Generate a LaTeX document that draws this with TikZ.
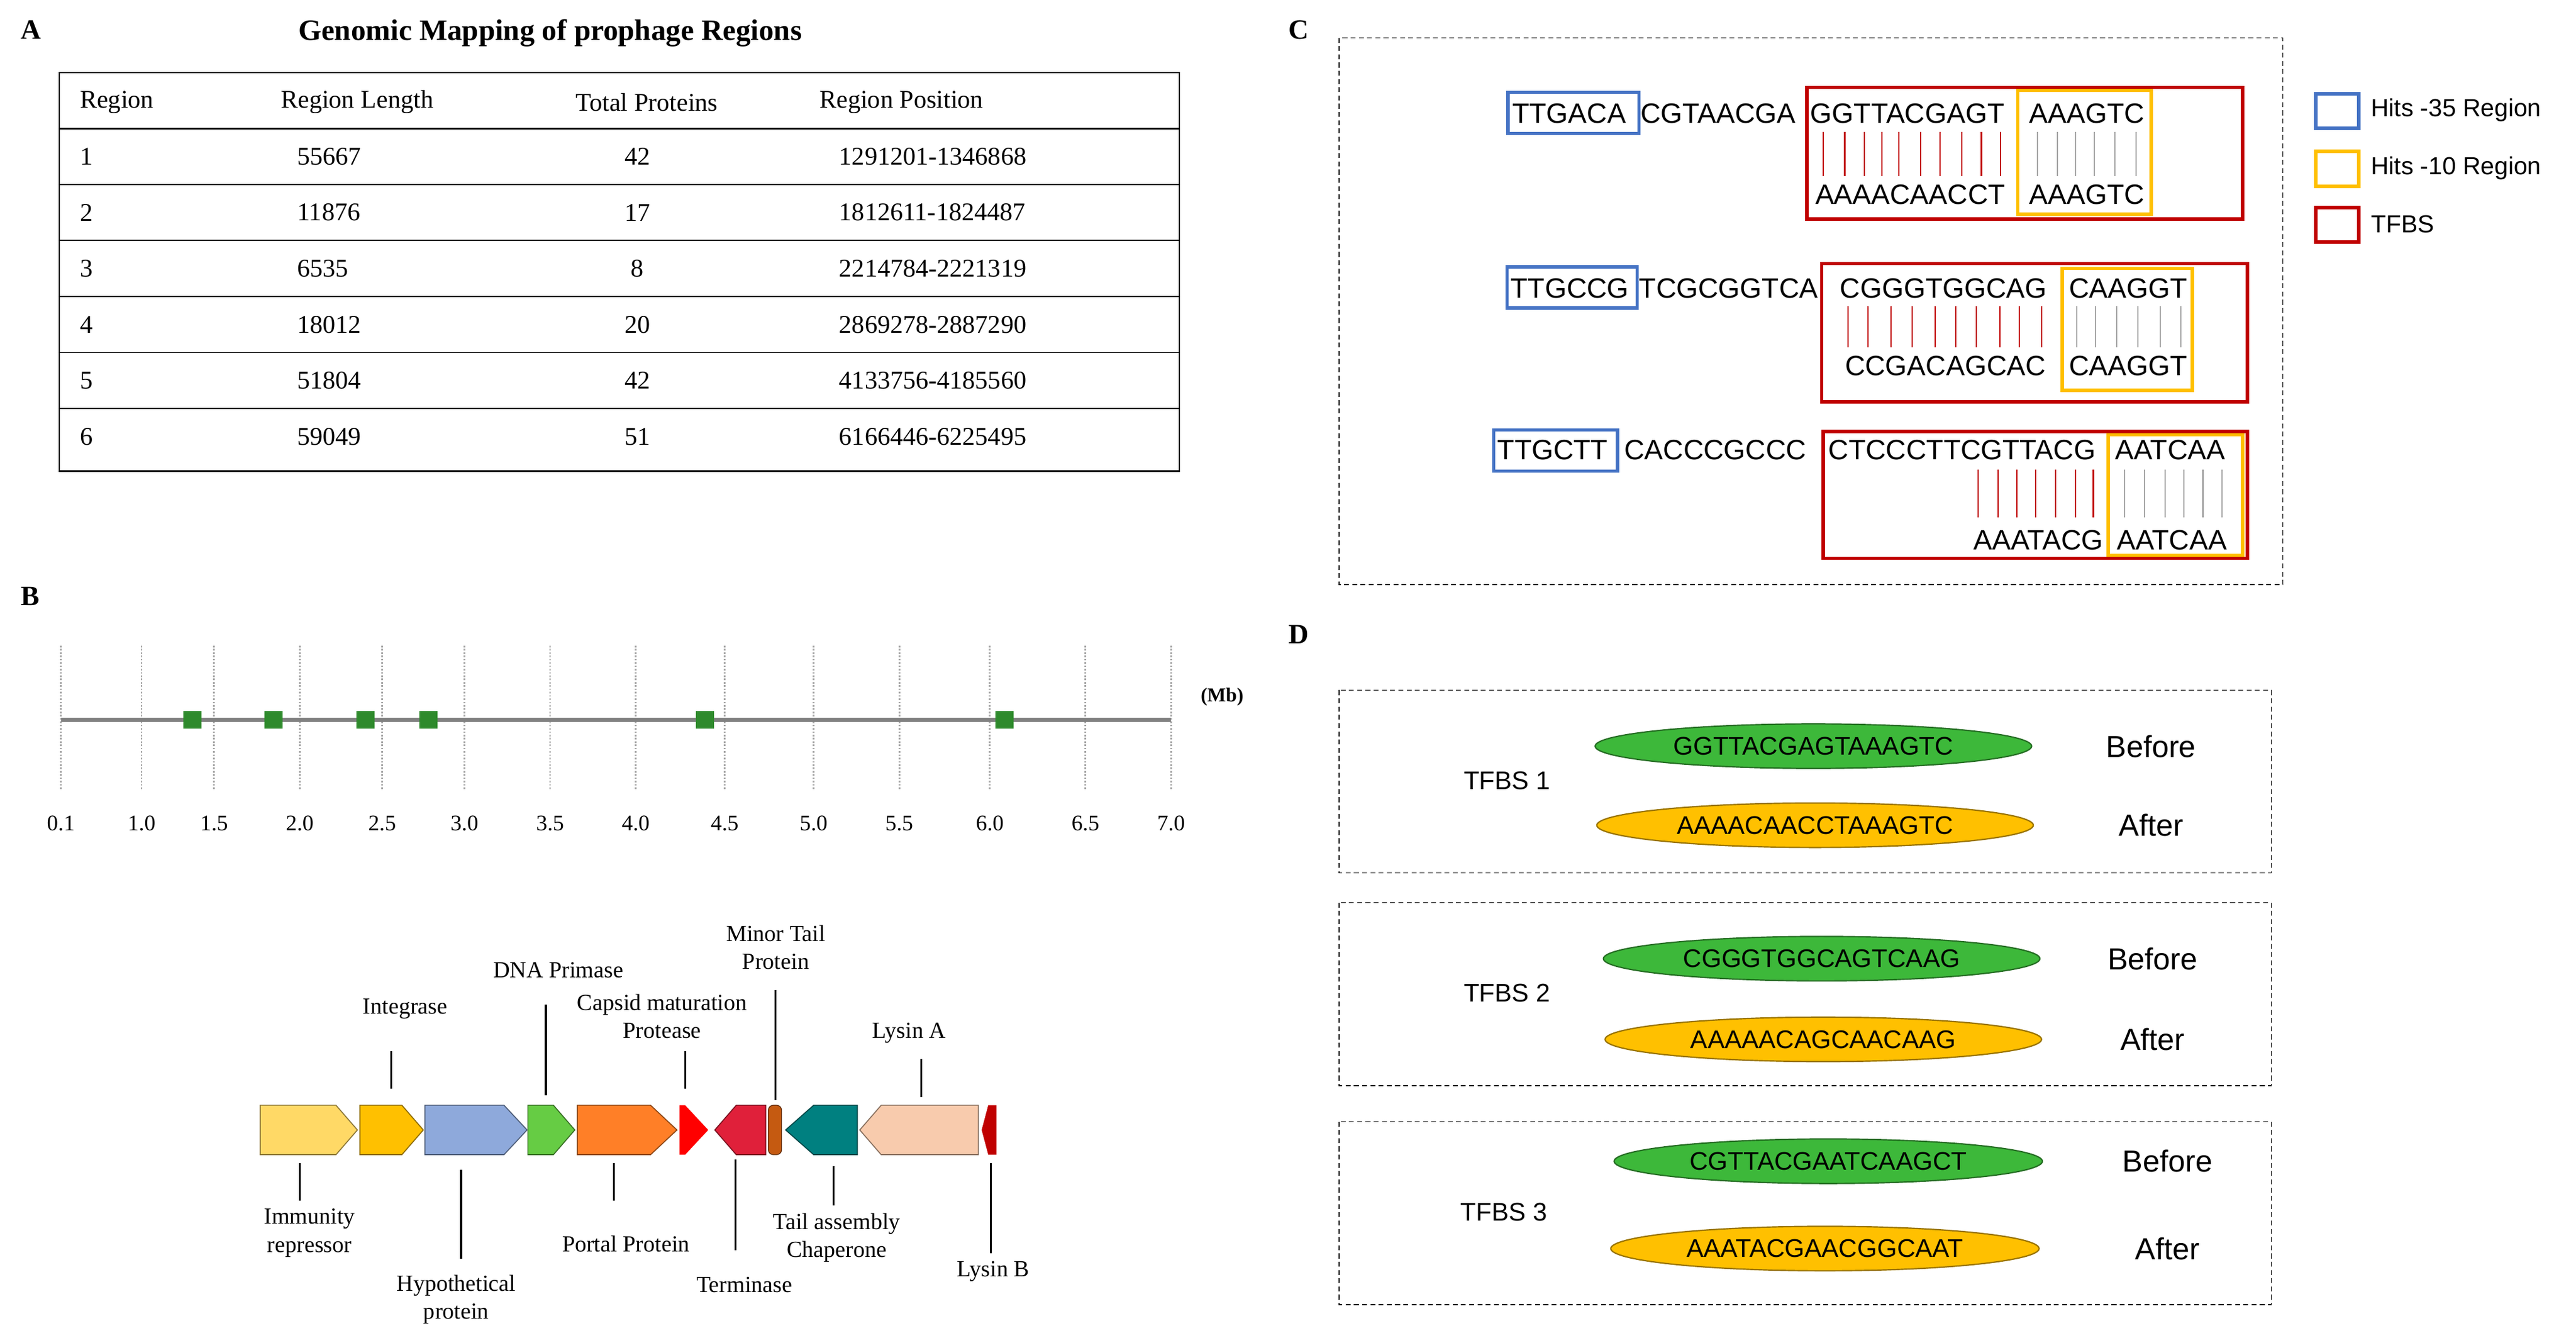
\documentclass[tikz,border=0pt]{standalone}
\usepackage{fontspec}
\setmainfont{Liberation Serif}
\setsansfont{Liberation Sans}
\definecolor{hitblue}{HTML}{4472C4}
\definecolor{hityellow}{HTML}{FFC000}
\definecolor{tfbsred}{HTML}{C00000}
\definecolor{seqgreen}{HTML}{3DB83A}
\definecolor{gimm}{HTML}{FFD966}
\definecolor{ghyp}{HTML}{8EA9DB}
\definecolor{gdna}{HTML}{66CC44}
\definecolor{gpor}{HTML}{FF7F27}
\definecolor{gter}{HTML}{E0203A}
\definecolor{gmin}{HTML}{C55A11}
\definecolor{gtai}{HTML}{008080}
\definecolor{glya}{HTML}{F8CBAD}
\tikzset{
  panel/.style={font=\fontsize{17}{17}\selectfont\bfseries, anchor=west},
  tab/.style={font=\fontsize{15.5}{16}\selectfont, anchor=west},
  seq/.style={font=\sffamily\fontsize{17}{17}\selectfont, anchor=west, inner sep=0pt},
  hit/.style={line width=2pt},
  pair/.style={line width=0.8pt},
  lbl/.style={font=\fontsize{14}{14}\selectfont, align=center, inner sep=0pt},
  leader/.style={line width=1.2pt},
  legtxt/.style={font=\sffamily\fontsize{15}{15}\selectfont, anchor=west},
  dbox/.style={densely dashed, line width=0.6pt},
  blob/.style={ellipse, minimum width=265pt, minimum height=27pt, inner sep=0pt, line width=0.8pt,
    font=\sffamily\fontsize{15.5}{16}\selectfont},
  side/.style={font=\sffamily\fontsize{18.5}{19}\selectfont},
  tfbs/.style={font=\sffamily\fontsize{15.5}{16}\selectfont}
}
\usetikzlibrary{shapes.geometric}
% gene arrows: start, body end, tip
\newcommand{\fwdgene}[4]{\fill[#4, draw=#4!55!black, line width=0.6pt]
  (#1,671)--(#2,671)--(#3,686)--(#2,701)--(#1,701)--cycle;}
\newcommand{\revgene}[4]{\fill[#4, draw=#4!55!black, line width=0.6pt]
  (#3,671)--(#2,671)--(#1,686)--(#2,701)--(#3,701)--cycle;}
\begin{document}
\begin{tikzpicture}[x=1pt, y=-1pt]
\useasboundingbox (0,0) rectangle (1564,812);
% ---------- A ----------
\node[panel] (pA) at (9,18) {A};
\node[font=\fontsize{18}{18}\selectfont\bfseries] (tA) at (334,20) {Genomic Mapping of prophage Regions};
\draw[line width=0.9pt] (36,44) rectangle (716,286);
\draw[line width=0.9pt] (36,78) -- (716,78);
\foreach \y in {112,146,180,214,248} \draw[line width=0.7pt] (36,\y) -- (716,\y);
\node[tab] (h1) at (45,62) {Region};
\node[tab] (h2) at (167,62) {Region Length};
\node[tab] (h3) at (346,62) {Total Proteins};
\node[tab] (h4) at (494,62) {Region Position};
\foreach \r/\len/\np/\pos [count=\i] in {1/55667/42/1291201-1346868, 2/11876/17/1812611-1824487,
  3/6535/8/2214784-2221319, 4/18012/20/2869278-2887290, 5/51804/42/4133756-4185560, 6/59049/51/6166446-6225495}{
  \node[tab] (r\i) at (45,61+34*\i) {\r};
  \node[tab] (l\i) at (177,61+34*\i) {\len};
  \node[tab, anchor=center] (p\i) at (387,61+34*\i) {\np};
  \node[tab] (q\i) at (506,61+34*\i) {\pos};
}
% ---------- B ----------
\node[panel] (pB) at (9,362) {B};
\foreach \x/\t in {37/0.1, 86/1.0, 130/1.5, 182/2.0, 232/2.5, 282/3.0, 334/3.5, 386/4.0, 440/4.5, 494/5.0, 546/5.5, 601/6.0, 659/6.5, 711/7.0}{
  \draw[gray!70, densely dotted, line width=1pt] (\x,392) -- (\x,480);
  \node[font=\fontsize{13.5}{14}\selectfont] at (\x,500) {\t};
}
\draw[gray, line width=2.8pt] (37,437) -- (711,437);
\foreach \x in {117,166,222,260,428,610}
  \fill[seqgreen!75!black] (\x-5.5,431.5) rectangle (\x+5.5,442.5);
\node[font=\fontsize{12}{12}\selectfont\bfseries] (mb) at (742,423) {(Mb)};
% gene map
\fwdgene{158}{204}{217}{gimm}
\fwdgene{218.5}{244}{257}{hityellow}
\fwdgene{258}{306}{320}{ghyp}
\fwdgene{320.5}{336}{349}{gdna}
\fwdgene{350.5}{395}{411}{gpor}
\fill[red] (412.5,671)--(416,671)--(430,686)--(416,701)--(412.5,701)--cycle;
\revgene{434}{447}{465}{gter}
\fill[gmin, draw=gmin!50!black, line width=0.5pt, rounded corners=3pt] (466.5,671) rectangle (474.5,701);
\revgene{477}{494}{520.5}{gtai}
\revgene{522}{535}{594}{glya}
\fill[tfbsred] (596,686)--(600,671)--(605,671)--(605,701)--(600,701)--cycle;
\draw[leader] (237.6,638) -- (237.6,661);
\draw[leader] (331.4,610) -- (331.4,665);
\draw[leader] (416,638) -- (416,661);
\draw[leader] (470.7,601) -- (470.7,668);
\draw[leader] (559.4,643) -- (559.4,666);
\draw[leader] (182,706) -- (182,729);
\draw[leader] (280,710) -- (280,764);
\draw[leader] (372.7,706) -- (372.7,729);
\draw[leader] (446.5,704) -- (446.5,759);
\draw[leader] (506,708) -- (506,732);
\draw[leader] (601.7,706) -- (601.7,761);
\node[lbl] (gInt) at (246,612.6) {Integrase};
\node[lbl] (gDna) at (339,589) {DNA Primase};
\node[lbl] (gCap) at (402,617) {Capsid maturation\\[3pt]Protease};
\node[lbl] (gMin) at (471,575) {Minor Tail\\[3pt]Protein};
\node[lbl] (gLyA) at (552,627) {Lysin A};
\node[lbl] (gImm) at (188,748.5) {Immunity\\[3pt]repressor};
\node[lbl] (gHyp) at (277,789) {Hypothetical\\[3pt]protein};
\node[lbl] (gPor) at (380,755) {Portal Protein};
\node[lbl] (gTer) at (452,780) {Terminase};
\node[lbl] (gTai) at (508,751.5) {Tail assembly\\[3pt]Chaperone};
\node[lbl] (gLyB) at (603,772) {Lysin B};
% ---------- C ----------
\node[panel] (pC) at (779,18) {C};
\draw[dbox] (813,23) rectangle (1386,355);
% row 1
\draw[hitblue, hit] (915.5,56) rectangle (995,81);
\node[seq] (s1a) at (918,69) {TTGACA};
\node[seq] (s1b) at (996,69) {CGTAACGA};
\node[seq] (s1c) at (1099,69) {GGTTACGAGT};
\node[seq] (s1d) at (1232,69) {AAAGTC};
\node[seq] (s1e) at (1102,118) {AAAACAACCT};
\node[seq] (s1f) at (1232,118) {AAAGTC};
\foreach \x in {1107,1120,1132,1142.5,1153,1166,1178,1191,1203,1214.5} \draw[tfbsred, pair] (\x,80) -- (\x,107);
\foreach \x in {1237,1249,1260,1271.6,1284,1297} \draw[gray!70, pair] (\x,80) -- (\x,107);
\draw[hityellow, hit] (1225,55) rectangle (1306,130);
\draw[tfbsred, hit] (1097,53) rectangle (1361.5,133);
% row 2
\draw[hitblue, hit] (915,162) rectangle (994,187);
\node[seq] (s2a) at (917,175) {TTGCCG};
\node[seq] (s2b) at (995,175) {TCGCGGTCA};
\node[seq] (s2c) at (1117,175) {CGGGTGGCAG};
\node[seq] (s2d) at (1256,175) {CAAGGT};
\node[seq] (s2e) at (1120,222) {CCGACAGCAC};
\node[seq] (s2f) at (1256,222) {CAAGGT};
\foreach \x in {1122,1134,1148,1161,1175,1187.5,1200,1214.3,1226,1239.5} \draw[tfbsred, pair] (\x,186) -- (\x,211);
\foreach \x in {1261,1272.4,1285,1298,1311.5,1324} \draw[gray!70, pair] (\x,186) -- (\x,211);
\draw[hityellow, hit] (1252,163) rectangle (1331,237);
\draw[tfbsred, hit] (1106,160) rectangle (1364.5,244);
% row 3
\draw[hitblue, hit] (907,261) rectangle (982,286);
\node[seq] (s3a) at (909,273) {TTGCTT};
\node[seq] (s3b) at (986,273) {CACCCGCCC};
\node[seq] (s3c) at (1110,273) {CTCCCTTCGTTACG};
\node[seq] (s3d) at (1284,273) {AATCAA};
\node[seq] (s3e) at (1198,328) {AAATACG};
\node[seq] (s3f) at (1285,328) {AATCAA};
\foreach \x in {1201,1213,1224.5,1236,1248,1260,1271} \draw[tfbsred, pair] (\x,285) -- (\x,314);
\foreach \x in {1290,1302,1314.5,1326,1337.5,1349} \draw[gray!70, pair] (\x,285) -- (\x,314);
\draw[hityellow, hit] (1280,264) rectangle (1361.5,337);
\draw[tfbsred, hit] (1107,262) rectangle (1364.5,339);
% legend
\draw[hitblue, line width=2.2pt] (1406,57) rectangle (1432,78);
\draw[hityellow, line width=2.2pt] (1406,92) rectangle (1432,113);
\draw[tfbsred, line width=2.2pt] (1406,126) rectangle (1432,147);
\node[legtxt] (k1) at (1436,67) {Hits -35 Region};
\node[legtxt] (k2) at (1436,102) {Hits -10 Region};
\node[legtxt] (k3) at (1436,136) {TFBS};
% ---------- D ----------
\node[panel] (pD) at (779,385) {D};
\foreach \top/\n/\gx/\gw/\gs/\ox/\os/\bx/\by/\ay/\tx in {
  419/1/1101/265/GGTTACGAGTAAAGTC/1102/AAAACAACCTAAAGTC/1306/453/501/915,
  548/2/1106/265/CGGGTGGCAGTCAAG/1107/AAAAACAGCAACAAG/1307/582/631/915,
  681/3/1110/260/CGTTACGAATCAAGCT/1108/AAATACGAACGGCAAT/1316/705/758/913}{
  \draw[dbox] (813,\top) rectangle (1379,\top+111);
  \node[tfbs] (t\n) at (\tx,\top+55) {TFBS \n};
  \node[blob, fill=seqgreen, draw=seqgreen!60!black, minimum width=\gw pt] (b\n) at (\gx,\by) {\gs};
  \node[blob, fill=hityellow, draw=hityellow!60!black, minimum width=\gw pt] (a\n) at (\ox,\ay) {\os};
  \node[side] (bb\n) at (\bx,\by) {Before};
  \node[side] (aa\n) at (\bx,\ay) {After};
}
\end{tikzpicture}
\end{document}
